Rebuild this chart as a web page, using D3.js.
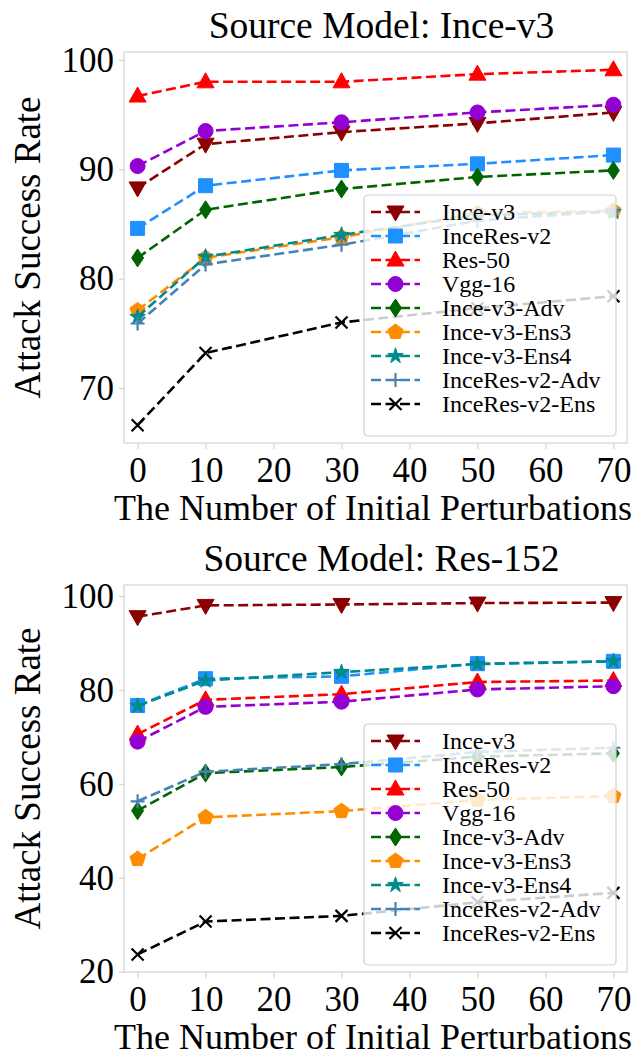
<!DOCTYPE html>
<html>
<head>
<meta charset="utf-8">
<script src="https://cdn.jsdelivr.net/npm/d3@7"></script>
<style>
  body { margin: 0; background: #fff; }
  svg text { font-family: "Liberation Serif", "Times New Roman", serif; fill: #000; }
</style>
</head>
<body>
<svg id="chart"></svg>
<script>
// x positions (number of initial perturbations)
const perturbations = [0, 10, 30, 50, 70];
const xTicks = [0, 10, 20, 30, 40, 50, 60, 70];

// target models, in legend order
const models = ['Ince-v3', 'InceRes-v2', 'Res-50', 'Vgg-16', 'Ince-v3-Adv',
                'Ince-v3-Ens3', 'Ince-v3-Ens4', 'InceRes-v2-Adv', 'InceRes-v2-Ens'];
const colors = ['#8b0000', '#1e90ff', '#ff0000', '#9400d3', '#006400',
                '#ff8c00', '#008b8b', '#4682b4', '#000000'];
const markers = ['tri-down', 'square', 'tri-up', 'circle', 'diamond',
                 'pentagon', 'star', 'plus', 'cross'];

// attack success rate, source model Ince-v3 (one row per target model)
const srcInceV3 = [
  [88.3, 92.3, 93.4, 94.2, 95.2],
  [84.6, 88.5, 89.9, 90.5, 91.3],
  [96.7, 98.0, 98.0, 98.7, 99.1],
  [90.3, 93.5, 94.3, 95.2, 95.9],
  [81.9, 86.3, 88.2, 89.3, 89.9],
  [77.1, 81.9, 83.8, 86.0, 86.2],
  [76.5, 82.0, 84.0, 85.8, 86.1],
  [75.9, 81.3, 83.1, 85.3, 86.2],
  [66.6, 73.2, 76.0, 77.3, 78.4]
];
const yTicksInceV3 = [70, 80, 90, 100];

// attack success rate, source model Res-152
const srcRes152 = [
  [95.6, 98.0, 98.2, 98.5, 98.6],
  [76.7, 82.4, 82.9, 85.6, 86.1],
  [70.6, 77.9, 79.1, 81.7, 82.0],
  [69.0, 76.4, 77.5, 80.1, 80.8],
  [54.3, 62.3, 63.6, 65.8, 66.5],
  [44.0, 52.9, 54.2, 56.6, 57.4],
  [76.6, 82.0, 83.8, 85.5, 86.1],
  [56.3, 62.6, 64.2, 66.8, 67.7],
  [23.7, 30.7, 31.9, 34.8, 36.8]
];
const yTicksRes152 = [20, 40, 60, 80, 100];

const W = 637, H = 1058;
const svg = d3.select('#chart').attr('width', W).attr('height', H);

// marker shapes
function markerPath(type) {
  const r = 7.5;
  switch (type) {
    case 'circle': return d3.symbol(d3.symbolCircle, Math.PI * r * r)();
    case 'square': return d3.symbol(d3.symbolSquare, 14 * 14)();
    case 'tri-up': return 'M0,-9L8.5,6L-8.5,6Z';
    case 'tri-down': return 'M0,9L8.5,-6L-8.5,-6Z';
    case 'diamond': return 'M0,-9L6,0L0,9L-6,0Z';
    case 'pentagon': {
      const pts = d3.range(5).map(i => {
        const a = -Math.PI / 2 + i * 2 * Math.PI / 5;
        return [8 * Math.cos(a), 8 * Math.sin(a)];
      });
      return 'M' + pts.join('L') + 'Z';
    }
    case 'star': return d3.symbol(d3.symbolStar, 75)();
    case 'plus': return 'M-7,0L7,0M0,-7L0,7';
    case 'cross': return 'M-6,-6L6,6M-6,6L6,-6';
  }
}

function addMarker(g, type, color, x, y) {
  const open = (type === 'plus' || type === 'cross');
  g.append('path')
    .attr('d', markerPath(type))
    .attr('transform', 'translate(' + x + ',' + y + ')')
    .attr('fill', open ? 'none' : color)
    .attr('stroke', color)
    .attr('stroke-width', open ? 2.2 : 1);
}

function drawPanel(top, bottom, title, data, yTicks) {
  const frame = {left: 124, right: 627, top: top, bottom: bottom};
  const g = svg.append('g');

  // autoscale like matplotlib: 5% margins
  const allVals = data.flat();
  const lo = d3.min(allVals), hi = d3.max(allVals);
  const pad = (hi - lo) * 0.05;

  const x = d3.scaleLinear().domain([-2, 72]).range([frame.left, frame.right]);
  const y = d3.scaleLinear().domain([lo - pad, hi + pad]).range([frame.bottom, frame.top]);

  // frame
  g.append('rect')
    .attr('x', frame.left).attr('y', frame.top)
    .attr('width', frame.right - frame.left).attr('height', frame.bottom - frame.top)
    .attr('fill', 'none').attr('stroke', '#d6d6d6').attr('stroke-width', 1.3);

  // axes
  const xAxis = g.append('g')
    .attr('transform', 'translate(0,' + frame.bottom + ')')
    .call(d3.axisBottom(x).tickValues(xTicks).tickSize(6).tickPadding(8).tickFormat(d3.format('d')));
  const yAxis = g.append('g')
    .attr('transform', 'translate(' + frame.left + ',0)')
    .call(d3.axisLeft(y).tickValues(yTicks).tickSize(5).tickPadding(5).tickFormat(d3.format('d')));
  [xAxis, yAxis].forEach(a => {
    a.select('.domain').remove();
    a.selectAll('.tick line').attr('stroke', '#d6d6d6').attr('stroke-width', 1.3);
    a.selectAll('.tick text').style('font-family', '"Liberation Serif", serif')
      .style('font-size', '35px').attr('fill', '#000');
  });

  // labels
  g.append('text')
    .attr('x', (frame.left + frame.right) / 2 + 6).attr('y', frame.top - 14)
    .attr('text-anchor', 'middle').style('font-size', '37.5px')
    .text(title);
  g.append('text')
    .attr('x', 373).attr('y', frame.bottom + 77)
    .attr('text-anchor', 'middle').style('font-size', '36px')
    .text('The Number of Initial Perturbations');
  g.append('text')
    .attr('transform', 'translate(40,' + ((frame.top + frame.bottom) / 2) + ') rotate(-90)')
    .attr('text-anchor', 'middle').style('font-size', '37px')
    .text('Attack Success Rate');

  // series
  const line = d3.line().x((d, i) => x(perturbations[i])).y(d => y(d));
  data.forEach((vals, k) => {
    const sg = g.append('g');
    sg.append('path')
      .attr('d', line(vals))
      .attr('fill', 'none')
      .attr('stroke', colors[k])
      .attr('stroke-width', 2.6)
      .attr('stroke-dasharray', '10,4.5');
    vals.forEach((v, i) => addMarker(sg, markers[k], colors[k], x(perturbations[i]), y(v)));
  });

  // legend, lower right
  const lw = 252, lh = 241;
  const lx = frame.right - 11 - lw, ly = frame.bottom - 7 - lh;
  const leg = g.append('g').attr('transform', 'translate(' + lx + ',' + ly + ')');
  leg.append('rect')
    .attr('width', lw).attr('height', lh).attr('rx', 4)
    .attr('fill', 'rgba(255,255,255,0.8)')
    .attr('stroke', '#d0d0d0').attr('stroke-width', 1.2);
  models.forEach((name, k) => {
    const cy = 17 + k * 24;
    leg.append('line')
      .attr('x1', 7).attr('x2', 56).attr('y1', cy).attr('y2', cy)
      .attr('stroke', colors[k]).attr('stroke-width', 2.6)
      .attr('stroke-dasharray', '10,4.5');
    addMarker(leg, markers[k], colors[k], 31.5, cy);
    leg.append('text')
      .attr('x', 78).attr('y', cy + 8)
      .style('font-size', '24px')
      .text(name);
  });
}

drawPanel(52, 443, 'Source Model: Ince-v3', srcInceV3, yTicksInceV3);
drawPanel(585, 972, 'Source Model: Res-152', srcRes152, yTicksRes152);
</script>
</body>
</html>
